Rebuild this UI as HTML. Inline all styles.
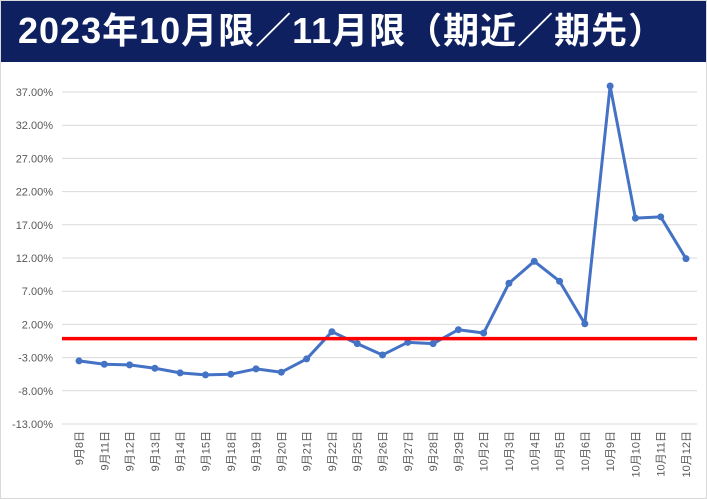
<!DOCTYPE html>
<html><head><meta charset="utf-8"><style>
body{margin:0;background:#fff;}
#wrap{position:relative;width:707px;height:499px;overflow:hidden;background:#fff;}
#title{position:absolute;left:0;top:0;width:707px;height:62px;background:#0e2060;color:#fff;font:bold 36px "Liberation Sans","Noto Sans CJK JP",sans-serif;line-height:62px;padding-left:18px;box-sizing:border-box;letter-spacing:1px;white-space:nowrap;}
svg{position:absolute;left:0;top:0;}
</style></head><body>
<div id="wrap">
<div id="title">2023年10月限／11月限（期近／期先）</div>
<svg id="chart" width="707" height="499">
<rect x="0.5" y="0.5" width="706" height="498" fill="none" stroke="#d9d9d9"/>
</svg>
</div>
<script>
const categories=["9月8日","9月11日","9月12日","9月13日","9月14日","9月15日","9月18日","9月19日","9月20日","9月21日","9月22日","9月25日","9月26日","9月27日","9月28日","9月29日","10月2日","10月3日","10月4日","10月5日","10月6日","10月9日","10月10日","10月11日","10月12日"];
const values=[-3.5,-4.0,-4.1,-4.6,-5.3,-5.6,-5.5,-4.7,-5.2,-3.2,0.9,-0.9,-2.6,-0.7,-0.9,1.2,0.7,8.2,11.5,8.5,2.1,37.9,18.0,18.2,11.9];
const yTicks=[-13,-8,-3,2,7,12,17,22,27,32,37];
const refValue=0;
const svg=document.getElementById('chart');
const NS='http://www.w3.org/2000/svg';
const yTop=92,yBot=424,vTop=37,vBot=-13;
const x0=79,x1=686,left=62,right=697;
const y=v=>yTop+(vTop-v)*(yBot-yTop)/(vTop-vBot);
const x=i=>x0+i*(x1-x0)/(categories.length-1);
function mk(t,a){const e=document.createElementNS(NS,t);for(const k in a)e.setAttribute(k,a[k]);svg.appendChild(e);return e;}
yTicks.forEach(t=>{
 const g=mk('line',{x1:left,x2:right,y1:y(t),y2:y(t),stroke:'#d9d9d9','stroke-width':1});
 
 
 const l=mk('text',{x:53,y:y(t)+4,'text-anchor':'end','font-size':'11','font-family':'Liberation Sans, sans-serif',fill:'#595959'});
 l.textContent=t.toFixed(2)+'%';
 
 
});
categories.forEach((c,i)=>{
 const t=mk('text',{x:0,y:0,'text-anchor':'end','font-size':'11','font-family':'Liberation Sans, Noto Sans CJK JP, sans-serif',fill:'#595959',transform:`translate(${x(i)+4},431) rotate(-90)`});
 t.textContent=c;
 
 
});
const pts=values.map((v,i)=>x(i)+','+y(v)).join(' ');
const pl=mk('polyline',{points:pts,fill:'none',stroke:'#4472c4','stroke-width':3,'stroke-linejoin':'round'});


values.forEach((v,i)=>{
 const c=mk('circle',{cx:x(i),cy:y(v),r:3.5,fill:'#4472c4'});
 
 
});
const rl=mk('line',{x1:left,x2:right,y1:y(refValue)+1,y2:y(refValue)+1,stroke:'#ff0000','stroke-width':3.5});


</script>
</body></html>
